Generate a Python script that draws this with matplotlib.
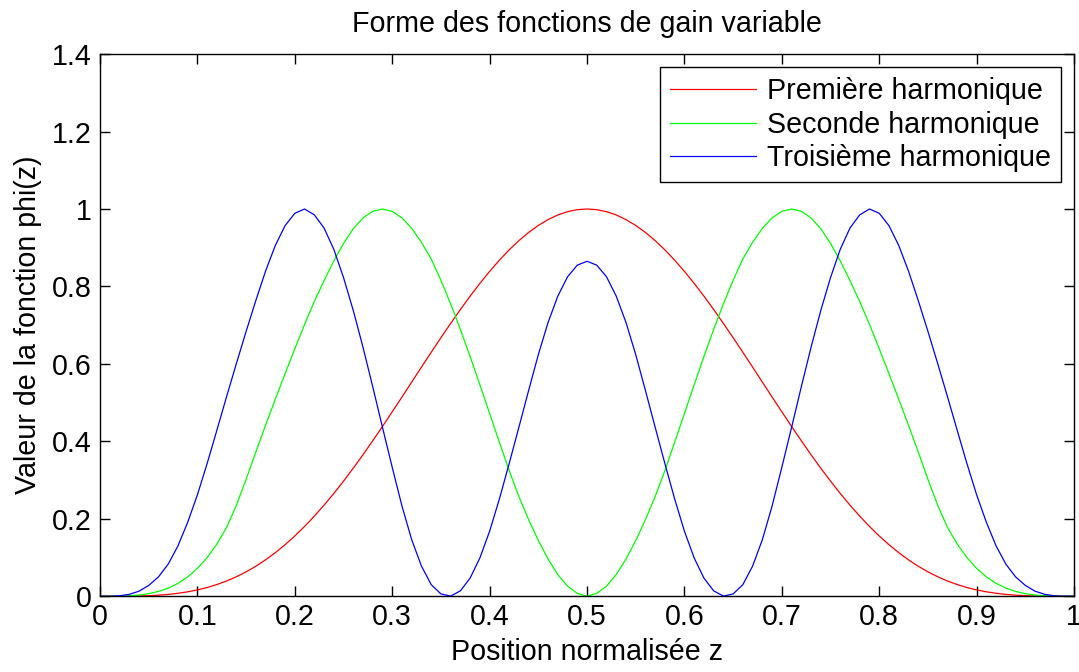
import matplotlib
matplotlib.use("Agg")
import matplotlib.pyplot as plt
import numpy as np
from matplotlib.ticker import FuncFormatter

plt.rcParams['font.family'] = ['Liberation Sans', 'DejaVu Sans']

# positions z (pas 0.01) et valeurs
z = np.linspace(0, 1, 101)

premiere = [
    0.0000, 0.0000, 0.0001, 0.0003, 0.0007, 0.0015, 0.0028, 0.0048, 0.0077, 0.0115,
    0.0164, 0.0226, 0.0303, 0.0395, 0.0504, 0.0630, 0.0776, 0.0941, 0.1126, 0.1331,
    0.1557, 0.1803, 0.2068, 0.2352, 0.2654, 0.2973, 0.3307, 0.3655, 0.4016, 0.4385,
    0.4763, 0.5145, 0.5531, 0.5917, 0.6299, 0.6677, 0.7046, 0.7405, 0.7751, 0.8079,
    0.8389, 0.8678, 0.8943, 0.9182, 0.9394, 0.9575, 0.9726, 0.9846, 0.9931, 0.9983,
    1.0000,
    0.9983, 0.9931, 0.9846, 0.9726, 0.9575, 0.9394, 0.9182, 0.8943, 0.8678, 0.8389,
    0.8079, 0.7751, 0.7405, 0.7046, 0.6677, 0.6299, 0.5917, 0.5531, 0.5145, 0.4763,
    0.4385, 0.4016, 0.3655, 0.3307, 0.2973, 0.2654, 0.2352, 0.2068, 0.1803, 0.1557,
    0.1331, 0.1126, 0.0941, 0.0776, 0.0630, 0.0504, 0.0395, 0.0303, 0.0226, 0.0164,
    0.0115, 0.0077, 0.0048, 0.0028, 0.0015, 0.0007, 0.0003, 0.0001, 0.0000, 0.0000,
]

seconde = [
    0.0000, 0.0000, 0.0003, 0.0011, 0.0031, 0.0066, 0.0124, 0.0210, 0.0333, 0.0501,
    0.0720, 0.1000, 0.1350, 0.1780, 0.2350, 0.3020, 0.3730, 0.4420, 0.5090, 0.5750,
    0.6390, 0.7020, 0.7610, 0.8150, 0.8660, 0.9110, 0.9490, 0.9770, 0.9940, 1.0000,
    0.9940, 0.9770, 0.9500, 0.9140, 0.8710, 0.8160, 0.7550, 0.6890, 0.6190, 0.5460,
    0.4720, 0.3980, 0.3250, 0.2580, 0.1980, 0.1440, 0.0960, 0.0560, 0.0260, 0.0075,
    0.0000,
    0.0075, 0.0260, 0.0560, 0.0960, 0.1440, 0.1980, 0.2580, 0.3250, 0.3980, 0.4720,
    0.5460, 0.6190, 0.6890, 0.7550, 0.8160, 0.8710, 0.9140, 0.9500, 0.9770, 0.9940,
    1.0000, 0.9940, 0.9770, 0.9490, 0.9110, 0.8660, 0.8150, 0.7610, 0.7020, 0.6390,
    0.5750, 0.5090, 0.4420, 0.3730, 0.3020, 0.2350, 0.1780, 0.1350, 0.1000, 0.0720,
    0.0501, 0.0333, 0.0210, 0.0124, 0.0066, 0.0031, 0.0011, 0.0003, 0.0000, 0.0000,
]

troisieme = [
    0.0000, 0.0001, 0.0012, 0.0049, 0.0131, 0.0280, 0.0500, 0.0830, 0.1300, 0.1910,
    0.2620, 0.3430, 0.4290, 0.5160, 0.6010, 0.6840, 0.7640, 0.8400, 0.9060, 0.9570,
    0.9890, 1.0000, 0.9850, 0.9510, 0.8960, 0.8230, 0.7380, 0.6430, 0.5410, 0.4360,
    0.3330, 0.2330, 0.1460, 0.0780, 0.0300, 0.0060, 0.0005, 0.0140, 0.0470, 0.0990,
    0.1680, 0.2510, 0.3420, 0.4360, 0.5310, 0.6240, 0.7070, 0.7750, 0.8250, 0.8550,
    0.8650,
    0.8550, 0.8250, 0.7750, 0.7070, 0.6240, 0.5310, 0.4360, 0.3420, 0.2510, 0.1680,
    0.0990, 0.0470, 0.0140, 0.0005, 0.0060, 0.0300, 0.0780, 0.1460, 0.2330, 0.3330,
    0.4360, 0.5410, 0.6430, 0.7380, 0.8230, 0.8960, 0.9510, 0.9850, 1.0000, 0.9890,
    0.9570, 0.9060, 0.8400, 0.7640, 0.6840, 0.6010, 0.5160, 0.4290, 0.3430, 0.2620,
    0.1910, 0.1300, 0.0830, 0.0500, 0.0280, 0.0131, 0.0049, 0.0012, 0.0001, 0.0000,
]

series = [("Première harmonique", premiere, (1, 0, 0)),
          ("Seconde harmonique", seconde, (0, 1, 0)),
          ("Troisième harmonique", troisieme, (0, 0, 1))]

FS = 20.6

fig = plt.figure(figsize=(10.79, 6.72), dpi=100)
ax = fig.add_axes([0.0927, 0.1127, 0.9027, 0.8068])

for name, vals, color in series:
    ax.plot(z, vals, color=color, lw=0.9, label=name)

ax.set_xlim(0, 1)
ax.set_ylim(0, 1.4)
ax.set_xticks(np.arange(0, 1.01, 0.1))
ax.set_yticks(np.arange(0, 1.41, 0.2))
fmt = FuncFormatter(lambda v, p: f"{v:g}")
ax.xaxis.set_major_formatter(fmt)
ax.yaxis.set_major_formatter(fmt)
ax.tick_params(direction='in', top=True, right=True, length=7, width=1,
               labelsize=FS)
ax.tick_params(axis='x', pad=5)
ax.tick_params(axis='y', pad=6)
for s in ax.spines.values():
    s.set_linewidth(1.0)

ax.set_title("Forme des fonctions de gain variable", fontsize=FS, pad=16)
ax.set_xlabel("Position normalisée z", fontsize=FS, labelpad=5)
ax.set_ylabel("Valeur de la fonction phi(z)", fontsize=FS, labelpad=7)

leg = ax.legend(loc='upper right', fontsize=FS, frameon=True, fancybox=False,
                edgecolor='black', framealpha=1, handlelength=3.0,
                handletextpad=0.4, borderpad=0.35, labelspacing=0.2,
                borderaxespad=0.45)
leg.get_frame().set_linewidth(1.0)

fig.savefig("out.png", dpi=100)
